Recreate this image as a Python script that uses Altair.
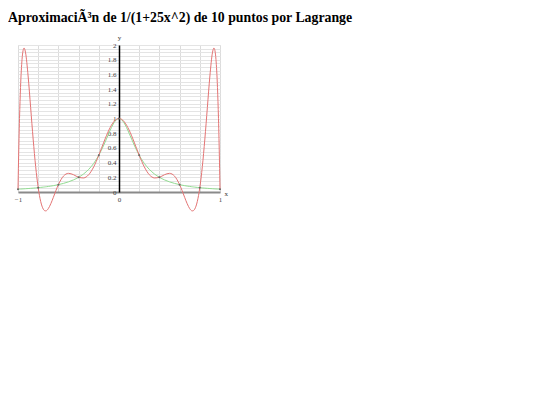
import altair as alt
import pandas as pd

title_text = "AproximaciÃ³n de 1/(1+25x^2) de 10 puntos por Lagrange"

# sample positions on the right half (curves are symmetric about x = 0)
x_half = [0, 0.025, 0.05, 0.1, 0.15, 0.2, 0.25, 0.3, 0.325, 0.35, 0.4, 0.45, 0.5,
          0.55, 0.6, 0.625, 0.65, 0.675, 0.7, 0.72, 0.73, 0.74, 0.75, 0.775, 0.8,
          0.825, 0.85, 0.875, 0.9, 0.925, 0.94, 0.95, 0.96, 0.975, 0.985, 0.99,
          0.995, 1]
# green: 1/(1+25x^2)
runge_half = [1, 0.985, 0.941, 0.8, 0.64, 0.5, 0.39, 0.308, 0.275, 0.246, 0.2, 0.165,
              0.138, 0.117, 0.1, 0.093, 0.0865, 0.0807, 0.0755, 0.0716, 0.0698, 0.068,
              0.0664, 0.0624, 0.0588, 0.0555, 0.0525, 0.0497, 0.0471, 0.0447, 0.0433,
              0.0424, 0.0416, 0.0403, 0.0396, 0.0392, 0.0388, 0.0385]
# red: Lagrange polynomial
lagrange_half = [1, 0.990, 0.959, 0.843, 0.679, 0.5, 0.343, 0.235, 0.205, 0.191, 0.2,
                 0.235, 0.254, 0.216, 0.1, 0.018, -0.073, -0.159, -0.226, -0.255,
                 -0.257, -0.250, -0.232, -0.131, 0.059, 0.345, 0.720, 1.152, 1.579,
                 1.893, 1.959, 1.923, 1.804, 1.423, 0.999, 0.726, 0.407, 0.038]

node_x = [-1, -0.8, -0.6, -0.4, -0.2, 0, 0.2, 0.4, 0.6, 0.8, 1]
node_y = [0.0385, 0.0588, 0.1, 0.2, 0.5, 1, 0.5, 0.2, 0.1, 0.0588, 0.0385]

x_ticks = [-1, -0.8, -0.6, -0.4, -0.2, 0, 0.2, 0.4, 0.6, 0.8, 1]
y_ticks = [round(i * 0.05, 2) for i in range(41)]

x_full = [-v for v in reversed(x_half[1:])] + x_half
runge = list(reversed(runge_half[1:])) + runge_half
lag = list(reversed(lagrange_half[1:])) + lagrange_half

df_g = pd.DataFrame({"x": x_full, "y": runge})
df_r = pd.DataFrame({"x": x_full, "y": lag})
df_n = pd.DataFrame({"x": node_x, "y": node_y})

W, H = 202, 147
FONT = "Liberation Serif"

xenc = alt.X("x:Q", scale=alt.Scale(domain=[-1, 1], nice=False, zero=False),
             axis=alt.Axis(values=x_ticks, grid=True, gridColor="#dcdcdc", gridWidth=1,
                           ticks=False, domainColor="#8a8a8a", domainWidth=2,
                           labelExpr="(datum.value == 0 || abs(datum.value) == 1) ? datum.label : ''",
                           format="~g", labelFlush=False, labelOverlap=False,
                           labelFont=FONT, labelFontSize=7,
                           labelColor="#444", labelPadding=3,
                           title="x", titleFont=FONT, titleFontSize=7, titleFontWeight="normal",
                           titleColor="#333", titleX=W + 4, titleY=1, titleAlign="left",
                           titleBaseline="middle"))
yenc = alt.Y("y:Q", scale=alt.Scale(domain=[0, 2], nice=False, zero=False),
             axis=alt.Axis(values=y_ticks, grid=True, gridColor="#e4e4e4", gridWidth=1,
                           ticks=False, domainColor="black", domainWidth=1.5, offset=-W / 2,
                           labelExpr="(round(datum.value * 20) % 4 == 0) ? datum.label : ''",
                           format="~g", labelFlush=False, labelOverlap=False,
                           labelFont=FONT, labelFontSize=7,
                           labelColor="#444", labelPadding=3,
                           title="y", titleFont=FONT, titleFontSize=7, titleFontWeight="normal",
                           titleColor="#333", titleAngle=0, titleX=0, titleY=-5,
                           titleAlign="center", titleBaseline="bottom"))

green = alt.Chart(df_g).mark_line(color="#92dc92", strokeWidth=1, interpolate="monotone").encode(x=xenc, y=yenc)
red = alt.Chart(df_r).mark_line(color="#e47474", strokeWidth=1, interpolate="monotone").encode(x=xenc, y=yenc)
nodes = alt.Chart(df_n).mark_circle(size=4, color="#666", opacity=1).encode(x=xenc, y=yenc)

chart = alt.layer(green, red, nodes).properties(
    width=W, height=H,
    title=alt.TitleParams(text=title_text, anchor="start", frame="group", dx=-10, dy=-4,
                          font=FONT, fontSize=13.8, fontWeight="bold", color="black"),
    autosize=alt.AutoSizeParams(type="none"),
    padding={"left": 10, "top": 37, "right": 300, "bottom": 150},
).configure_view(stroke="#cfcfcf", strokeWidth=1).configure(background="white")

chart.save("out.html", embed_options={"renderer": "svg", "actions": False})
